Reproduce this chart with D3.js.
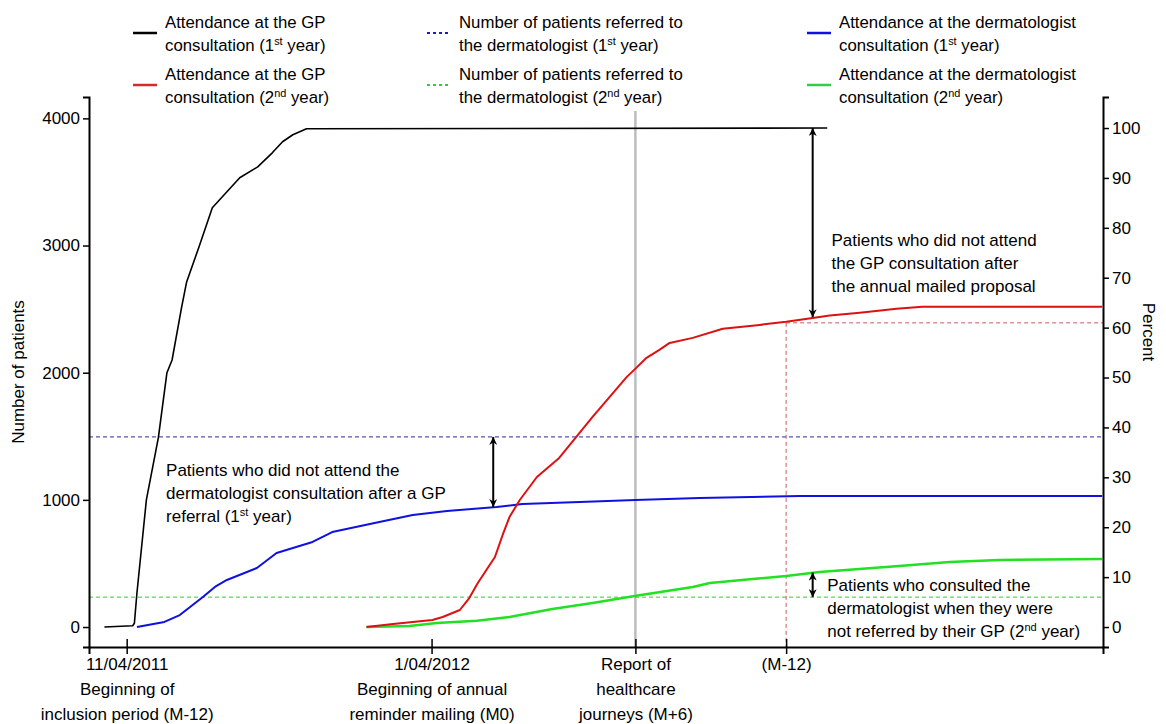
<!DOCTYPE html>
<html>
<head>
<meta charset="utf-8">
<style>
  body { margin: 0; background: #fff; }
  svg { display: block; font-family: 'Liberation Sans', Arial, sans-serif; }
</style>
<script src="https://cdn.jsdelivr.net/npm/d3@7"></script>
</head>
<body>
<svg id="chart" width="1166" height="724"></svg>
<script>
// ---- data (x = days since 11/04/2011, y = number of patients) ----
const gpYear1 = [[-26, 0], [7, 10], [9, 30], [12, 270], [23, 1000], [37, 1490], [47, 2000],
  [53, 2100], [64, 2510], [70, 2714], [85, 3000], [100, 3297], [132, 3533], [153, 3619],
  [170, 3729], [182, 3816], [194, 3871], [210, 3918], [818, 3924]];

const dermYear1 = [[12, 0], [44, 40], [62, 94], [89, 236], [103, 315], [117, 370], [152, 464],
  [175, 582], [217, 669], [240, 747], [295, 826], [334, 881], [374, 913], [432, 944],
  [462, 968], [529, 983], [594, 999], [669, 1015], [786, 1031], [1139, 1031]];

const gpYear2 = [[280, 0], [311, 24], [357, 55], [369, 79], [389, 134], [400, 228], [410, 346],
  [420, 448], [430, 551], [439, 724], [447, 865], [459, 999], [479, 1180], [505, 1330],
  [525, 1495], [544, 1652], [564, 1810], [584, 1967], [595, 2038], [607, 2117], [622, 2179],
  [634, 2234], [661, 2274], [696, 2345], [739, 2376], [770, 2400], [801, 2431], [821, 2450],
  [856, 2471], [899, 2502], [929, 2518], [1139, 2518]];

const dermYear2 = [[280, 0], [330, 8], [362, 31], [409, 50], [447, 79], [497, 142], [544, 189],
  [593, 244], [661, 315], [681, 346], [731, 378], [770, 401], [809, 433], [902, 480],
  [961, 511], [1019, 527], [1139, 535]];

const totalPatients = 3924;      // = 100 %
const referredYear1 = 1495;
const referredYear2 = 235;
const gpYear2AtM12 = 2392;
const reportDay = 594;
const m12Day = 770;

const xTicks = [0, 356, 594, 770];
const xTickLabels = [
  ['11/04/2011', 'Beginning of', 'inclusion period (M-12)'],
  ['1/04/2012', 'Beginning of annual', 'reminder mailing (M0)'],
  ['Report of', 'healthcare', 'journeys (M+6)'],
  ['(M-12)'],
];
const yTicks = [0, 1000, 2000, 3000, 4000];
const pctTicks = [0, 10, 20, 30, 40, 50, 60, 70, 80, 90, 100];

const legendItems = [
  { col: 0, row: 0, color: '#000', dash: null, lines: ['Attendance at the GP', 'consultation (1^st year)'] },
  { col: 0, row: 1, color: '#d42a2a', dash: null, lines: ['Attendance at the GP', 'consultation (2^nd year)'] },
  { col: 1, row: 0, color: '#1a1ad0', dash: '3,3', lines: ['Number of patients referred to', 'the dermatologist (1^st year)'] },
  { col: 1, row: 1, color: '#33cc33', dash: '3,3', lines: ['Number of patients referred to', 'the dermatologist (2^nd year)'] },
  { col: 2, row: 0, color: '#1010e0', dash: null, lines: ['Attendance at the dermatologist', 'consultation (1^st year)'] },
  { col: 2, row: 1, color: '#33cc44', dash: null, lines: ['Attendance at the dermatologist', 'consultation (2^nd year)'] },
];

const arrows = [
  { day: 801, from: totalPatients, to: 2436 },
  { day: 428, from: referredYear1, to: 944 },
  { day: 801, from: 428, to: referredYear2 },
];

const notes = [
  { day: 46, value: 1190, lines: ['Patients who did not attend the', 'dermatologist consultation after a GP', 'referral (1^st year)'] },
  { day: 823, value: 2998, lines: ['Patients who did not attend', 'the GP consultation after', 'the annual mailed proposal'] },
  { day: 818, value: 283, lines: ['Patients who consulted the', 'dermatologist when they were', 'not referred by their GP (2^nd year)'] },
];

// ---- helpers ----
function richText(text, str) {
  let raised = false;
  str.split(/\^(\w+)/).forEach((part, i) => {
    if (!part) return;
    const t = text.append('tspan').text(part);
    if (i % 2 === 1) {
      t.attr('dy', -6).attr('font-size', '0.65em');
      raised = true;
    } else if (raised) {
      t.attr('dy', 6);
      raised = false;
    }
  });
}

// ---- chart ----
const svg = d3.select('#chart');
const plotLeft = 89, plotRight = 1103, plotTop = 97, plotBottom = 647;

const x = d3.scaleLinear().domain([-44, 1140]).range([plotLeft, plotRight]);
const y = d3.scaleLinear().domain([-157, 4168]).range([plotBottom, plotTop]);
const yPct = d3.scaleLinear()
  .domain(y.domain().map((v) => (v / totalPatients) * 100))
  .range([plotBottom, plotTop]);

const defs = svg.append('defs');
defs.append('marker')
  .attr('id', 'head')
  .attr('viewBox', '0 0 10 10')
  .attr('refX', 10)
  .attr('refY', 5)
  .attr('markerWidth', 9)
  .attr('markerHeight', 8)
  .attr('markerUnits', 'userSpaceOnUse')
  .attr('orient', 'auto-start-reverse')
  .append('path')
  .attr('d', 'M0,0L10,5L0,10L3,5Z')
  .attr('fill', '#000');

// reference lines
const refs = svg.append('g').attr('class', 'refs').attr('fill', 'none');
refs.append('line')
  .attr('x1', x(reportDay)).attr('x2', x(reportDay))
  .attr('y1', plotTop + 14).attr('y2', plotBottom)
  .attr('stroke', '#bdbdbd').attr('stroke-width', 2.5);
refs.append('line')
  .attr('x1', plotLeft).attr('x2', plotRight)
  .attr('y1', y(referredYear1)).attr('y2', y(referredYear1))
  .attr('stroke', '#2a2a9a').attr('stroke-width', 1).attr('stroke-dasharray', '4,3');
refs.append('line')
  .attr('x1', plotLeft).attr('x2', plotRight)
  .attr('y1', y(referredYear2)).attr('y2', y(referredYear2))
  .attr('stroke', '#33cc33').attr('stroke-width', 1).attr('stroke-dasharray', '4,3');
refs.append('line')
  .attr('x1', x(m12Day)).attr('x2', plotRight)
  .attr('y1', y(gpYear2AtM12)).attr('y2', y(gpYear2AtM12))
  .attr('stroke', '#c85a5a').attr('stroke-width', 1).attr('stroke-dasharray', '4,3');
refs.append('line')
  .attr('x1', x(m12Day)).attr('x2', x(m12Day))
  .attr('y1', y(gpYear2AtM12)).attr('y2', plotBottom)
  .attr('stroke', '#c85a5a').attr('stroke-width', 1).attr('stroke-dasharray', '4,3');

// curves
const line = d3.line().x((d) => x(d[0])).y((d) => y(d[1]));
const series = [
  { data: dermYear2, color: '#22e022', width: 2.5 },
  { data: dermYear1, color: '#1010e0', width: 2 },
  { data: gpYear2, color: '#dd1111', width: 2 },
  { data: gpYear1, color: '#000', width: 1.6 },
];
svg.append('g').attr('class', 'curves')
  .selectAll('path')
  .data(series)
  .join('path')
  .attr('d', (d) => line(d.data))
  .attr('fill', 'none')
  .attr('stroke', (d) => d.color)
  .attr('stroke-width', (d) => d.width)
  .attr('stroke-linejoin', 'round');

// arrows
svg.append('g').attr('class', 'arrows')
  .selectAll('line')
  .data(arrows)
  .join('line')
  .attr('x1', (d) => x(d.day)).attr('x2', (d) => x(d.day))
  .attr('y1', (d) => y(d.from)).attr('y2', (d) => y(d.to))
  .attr('stroke', '#000').attr('stroke-width', 2)
  .attr('marker-start', 'url(#head)')
  .attr('marker-end', 'url(#head)');

// annotations
const noteG = svg.append('g').attr('class', 'notes').attr('font-size', 17);
notes.forEach((n) => {
  n.lines.forEach((l, i) => {
    const t = noteG.append('text')
      .attr('x', x(n.day))
      .attr('y', y(n.value) + i * 23);
    richText(t, l);
  });
});

// axes
const xAxis = svg.append('g')
  .attr('transform', `translate(0,${plotBottom})`)
  .call(d3.axisBottom(x).tickValues(xTicks).tickFormat('').tickSizeOuter(0).tickSize(7));
xAxis.selectAll('.tick line').attr('y1', -8);
xAxis.selectAll('.tick').each(function (d, i) {
  xTickLabels[i].forEach((l, j) => {
    d3.select(this).append('text')
      .attr('y', 23 + j * 25)
      .attr('fill', '#000')
      .attr('text-anchor', 'middle')
      .text(l);
  });
});

const yAxis = svg.append('g')
  .attr('transform', `translate(${plotLeft},0)`)
  .call(d3.axisLeft(y).tickValues(yTicks).tickFormat(d3.format('d'))
    .tickSizeOuter(0).tickSize(6).tickPadding(3));

const pAxis = svg.append('g')
  .attr('transform', `translate(${plotRight},0)`)
  .call(d3.axisRight(yPct).tickValues(pctTicks).tickFormat(d3.format('d'))
    .tickSizeOuter(0).tickSize(6).tickPadding(3));

[xAxis, yAxis, pAxis].forEach((g) => {
  g.attr('font-size', 17).attr('font-family', null);
  g.select('.domain').attr('stroke-width', 2);
  g.selectAll('.tick line').attr('stroke-width', 1.5);
});

svg.append('text')
  .attr('transform', 'translate(24,372) rotate(-90)')
  .attr('text-anchor', 'middle')
  .attr('font-size', 17)
  .text('Number of patients');

svg.append('text')
  .attr('transform', 'translate(1143,332) rotate(90)')
  .attr('text-anchor', 'middle')
  .attr('font-size', 17)
  .text('Percent');

// legend
const colX = [133, 427, 807];
const rowY = [0, 52];
const legend = svg.append('g').attr('class', 'legend').attr('font-size', 16.8);
legendItems.forEach((d) => {
  const lx = colX[d.col];
  const ly = rowY[d.row];
  legend.append('line')
    .attr('x1', lx).attr('x2', lx + 24)
    .attr('y1', ly + 33).attr('y2', ly + 33)
    .attr('stroke', d.color)
    .attr('stroke-width', d.dash ? 2 : 2.5)
    .attr('stroke-dasharray', d.dash);
  d.lines.forEach((l, i) => {
    const t = legend.append('text')
      .attr('x', lx + 32)
      .attr('y', ly + 28 + i * 23);
    richText(t, l);
  });
});
</script>
</body>
</html>
